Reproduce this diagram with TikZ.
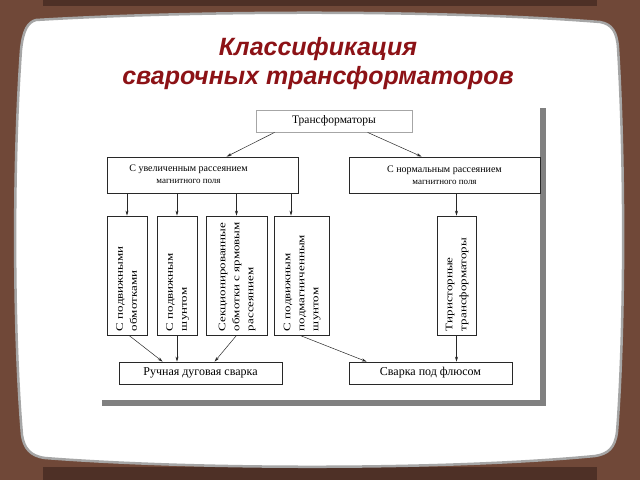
\documentclass[tikz,border=0pt]{standalone}
\usepackage{fontspec}
\usepackage{graphicx}
\setmainfont{Liberation Serif}
\newfontfamily\titlefont{Liberation Sans}
\newfontfamily\vfont[FakeStretch=1.3]{Liberation Serif}
\usetikzlibrary{calc,arrows.meta}
\definecolor{wood}{RGB}{112,72,56}
\definecolor{wooddark}{RGB}{78,48,38}
\definecolor{titlered}{RGB}{140,18,22}
\definecolor{linegray}{RGB}{40,40,40}
\definecolor{shadowgray}{RGB}{128,128,128}
\newcommand{\vtext}[1]{\rotatebox{90}{\makebox[111pt][l]{\vfont\fontsize{10}{14}\selectfont\begin{tabular}{@{}l@{}}#1\end{tabular}}}}
\tikzset{
  box/.style={draw=linegray, line width=0.8pt, fill=white, inner sep=0pt, align=center},
  vbox/.style={box, minimum height=119pt},
  arr/.style={draw=linegray, line width=0.5pt, -{Stealth[length=5pt,width=3pt]}},
  titletext/.style={font=\titlefont\bfseries\itshape\fontsize{25}{29}\selectfont, text=titlered, align=center}
}
\begin{document}
\begin{tikzpicture}[x=1pt,y=-1pt]
\useasboundingbox (0,0) rectangle (640,480);
% wooden background
\fill[wood] (0,0) rectangle (640,480);
\fill[wooddark] (43,0) rectangle (597,6);
\fill[wooddark] (43,467) rectangle (597,480);
% board
\path[fill=white, draw=gray!70, line width=2.5pt]
  (36,20) .. controls (200,10) and (450,10) .. (600,22)
  .. controls (612,24) and (617,32) .. (618,48)
  .. controls (625,160) and (625,330) .. (617,432)
  .. controls (615,448) and (608,454) .. (595,456)
  .. controls (450,470) and (200,470) .. (45,458)
  .. controls (30,456) and (24,448) .. (22,435)
  .. controls (13,330) and (13,160) .. (21,50)
  .. controls (23,30) and (28,22) .. (36,20) -- cycle;
% title
\node[titletext] (title) at (318,64) {Классификация\\сварочных трансформаторов};
% frame shadow
\fill[shadowgray] (540,108) rectangle (546,406);
\fill[shadowgray] (102,400) rectangle (546,406);
% boxes
\node[box, draw=gray!70, minimum width=156pt, minimum height=22pt, font=\fontsize{11.5}{13}\selectfont] (T) at (334,121) {Трансформаторы};
\node[box, minimum width=191pt, minimum height=36pt] (L) at (202.5,175)
  {\begin{tabular}{@{}c@{}}{\fontsize{10}{12}\selectfont С увеличенным рассеянием}\\{\fontsize{9}{12}\selectfont магнитного поля}\end{tabular}\hspace{28pt}};
\node[box, minimum width=191pt, minimum height=36pt] (N) at (444.5,175)
  {{\fontsize{10}{12}\selectfont С нормальным рассеянием}\\{\fontsize{9}{12}\selectfont магнитного поля}};
\node[vbox, minimum width=40pt] (b1) at (127,275.5) {\vtext{С подвижными\\обмотками}};
\node[vbox, minimum width=40pt] (b2) at (177,275.5) {\vtext{С подвижным\\шунтом}};
\node[vbox, minimum width=61pt] (b3) at (236.5,275.5) {\vtext{Секционированные\\обмотки с ярмовым\\рассеянием}};
\node[vbox, minimum width=55pt] (b4) at (301.5,275.5) {\vtext{С подвижным\\подмагниченным\\шунтом}};
\node[vbox, minimum width=39pt] (b5) at (456.5,275.5) {\vtext{Тиристорные\\трансформаторы}};
\node[box, minimum width=163pt, minimum height=22pt, font=\fontsize{12}{14}\selectfont] (R) at (200.5,373) {Ручная дуговая сварка};
\node[box, minimum width=163pt, minimum height=22pt, font=\fontsize{12}{14}\selectfont] (F) at (430.5,373) {Сварка под флюсом};
% connectors
\draw[arr] ($(T.south west)+(19,0)$) -- ($(L.north west)+(120,0)$);
\draw[arr] ($(T.south west)+(112,0)$) -- ($(N.north west)+(73,0)$);
\draw[arr] (b1.north |- L.south) -- (b1.north);
\draw[arr] (b2.north |- L.south) -- (b2.north);
\draw[arr] (b3.north |- L.south) -- (b3.north);
\coordinate (c4) at ($(b4.north)+(-10.5,0)$);
\draw[arr] (c4 |- L.south) -- (c4);
\draw[arr] (b5.north |- N.south) -- (b5.north);
\draw[arr] ($(b1.south)+(2,0)$) -- ($(R.north west)+(44,0)$);
\draw[arr] (b2.south) -- (b2.south |- R.north);
\draw[arr] (b3.south) -- ($(R.north west)+(96,0)$);
\draw[arr] ($(b4.south)+(-1.5,0)$) -- ($(F.north west)+(18,0)$);
\draw[arr] (b5.south) -- (b5.south |- F.north);
\end{tikzpicture}
\end{document}
